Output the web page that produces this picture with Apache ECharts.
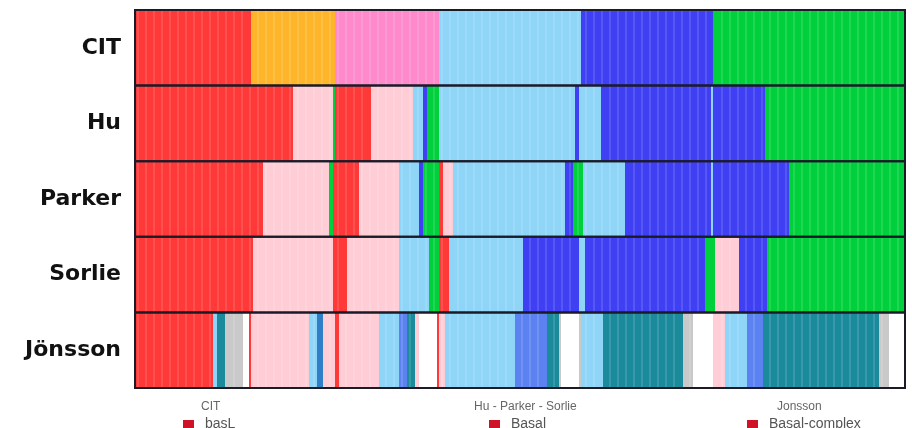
<!DOCTYPE html>
<html>
<head>
<meta charset="utf-8">
<script src="https://cdn.jsdelivr.net/npm/echarts@6/dist/echarts.min.js"></script>
<style>
  html, body { margin: 0; padding: 0; background: #fff; }
  #chart { width: 912px; height: 428px; }
</style>
</head>
<body>
<div id="chart"></div>
<script>
// subtype calls per sample, run-length encoded (class, number of samples)
var rows = ['CIT', 'Hu', 'Parker', 'Sorlie', 'Jönsson'];

var citRuns = [['basL', 58], ['mApo', 42], ['lumC', 52], ['normL', 71], ['lumB', 66], ['lumA', 96]];
var huRuns = [['Basal', 79], ['Her2', 20], ['LumA', 1], ['Basal', 18], ['Her2', 21], ['Normal', 5], ['LumB', 2],
    ['LumA', 6], ['Normal', 68], ['LumB', 2], ['Normal', 11], ['LumB', 55], ['Normal', 1], ['LumB', 26], ['LumA', 70]];
var parkerRuns = [['Basal', 64], ['Her2', 33], ['LumA', 2], ['Basal', 13], ['Her2', 20], ['Normal', 10], ['LumB', 2],
    ['LumA', 8], ['Basal', 2], ['Her2', 5], ['Normal', 56], ['LumB', 4], ['LumA', 5], ['Normal', 21], ['LumB', 43],
    ['Normal', 1], ['LumB', 38], ['LumA', 58]];
var sorlieRuns = [['Basal', 59], ['Her2', 40], ['Basal', 7], ['Her2', 26], ['Normal', 15], ['LumA', 5], ['Basal', 5],
    ['Normal', 37], ['LumB', 28], ['Normal', 3], ['LumB', 60], ['LumA', 5], ['Her2', 12], ['LumB', 14], ['LumA', 69]];
var jonssonRuns = [['Basal-complex', 39], ['Luminal-simple', 2], ['Luminal-complex', 4], ['Squamous-like', 9],
    ['Unclassified', 3], ['Basal-complex', 1], ['HER2-enriched', 29], ['Luminal-simple', 4], ['Normal-like', 3],
    ['HER2-enriched', 6], ['Basal-complex', 2], ['HER2-enriched', 20], ['Luminal-simple', 10], ['Mixed', 4],
    ['Luminal-complex', 4], ['HER2-enriched', 2], ['Unclassified', 9], ['Basal-complex', 1], ['HER2-enriched', 3],
    ['Luminal-simple', 35], ['Mixed', 16], ['Luminal-complex', 6], ['Squamous-like', 1], ['Unclassified', 9],
    ['Squamous-like', 1], ['Luminal-simple', 11], ['Luminal-complex', 40], ['Squamous-like', 5], ['Unclassified', 10],
    ['HER2-enriched', 6], ['Luminal-simple', 11], ['Mixed', 8], ['Luminal-complex', 58], ['Squamous-like', 5],
    ['Unclassified', 8]];

var allRuns = [citRuns, huRuns, parkerRuns, sorlieRuns, jonssonRuns];

var classColors = {
    'basL': '#ff3838', 'mApo': '#ffb52a', 'lumC': '#ff8acb', 'normL': '#8fd5f7', 'lumB': '#3f3ff3', 'lumA': '#00d03c',
    'Basal': '#ff3838', 'Her2': '#ffcdd6', 'Normal': '#8fd5f7', 'LumB': '#3f3ff3', 'LumA': '#00d03c',
    'Basal-complex': '#ff3838', 'HER2-enriched': '#ffcdd6', 'Luminal-simple': '#8fd5f7', 'Luminal-complex': '#1b8a9b',
    'Squamous-like': '#c9c9c9', 'Unclassified': '#ffffff', 'Mixed': '#5b82f0', 'Normal-like': '#2f7ec6'
};

var total = 0;
citRuns.forEach(function (r) { total += r[1]; });

// build one list of segments per class
var segs = {};
allRuns.forEach(function (runs, row) {
    var pos = 0;
    runs.forEach(function (r) {
        if (!segs[r[0]]) segs[r[0]] = [];
        segs[r[0]].push([pos, pos + r[1], row]);
        pos += r[1];
    });
});

function renderSeg(params, api) {
    var s = api.value(0), e = api.value(1), r = api.value(2);
    var p0 = api.coord([s, r]);
    var p1 = api.coord([e, r]);
    var h = api.size([0, 1])[1];
    var w1 = api.size([1, 0])[0];
    var kids = [{
        type: 'rect',
        shape: {x: p0[0], y: p0[1] - h / 2, width: p1[0] - p0[0], height: h},
        style: {fill: api.visual('color')}
    }];
    // faint sample stripes, like the original image
    for (var k = Math.ceil(s / 4) * 4 + 1; k < e - 1; k += 4) {
        var pk = api.coord([k, r]);
        kids.push({
            type: 'rect',
            shape: {x: pk[0], y: p0[1] - h / 2, width: w1, height: h},
            style: {fill: 'rgba(255,255,255,0.13)'}
        });
    }
    return {type: 'group', children: kids};
}

function renderFrame(params, api) {
    var r = api.value(0);
    var p0 = api.coord([0, r]);
    var p1 = api.coord([total, r]);
    var h = api.size([0, 1])[1];
    return {
        type: 'rect',
        shape: {x: p0[0], y: p0[1] - h / 2, width: p1[0] - p0[0], height: h},
        style: {fill: null, stroke: '#1b1b28', lineWidth: 2}
    };
}

var series = Object.keys(segs).map(function (name) {
    return {
        name: name,
        type: 'custom',
        renderItem: renderSeg,
        itemStyle: {color: classColors[name]},
        encode: {x: [0, 1], y: 2},
        data: segs[name],
        silent: true
    };
});
series.push({
    name: 'frame',
    type: 'custom',
    renderItem: renderFrame,
    encode: {y: 0},
    data: rows.map(function (r, i) { return [i]; }),
    z: 10,
    silent: true
});

var legendText = {fontFamily: 'Liberation Sans', fontSize: 14, color: '#555', padding: [0, 0, 0, 6]};
var titleText = {fontFamily: 'Liberation Sans', fontSize: 12, color: '#666', fontWeight: 'normal'};

var myChart = echarts.init(document.getElementById('chart'));
myChart.setOption({
    animation: false,
    title: [
        {text: 'CIT', left: 196, top: 396, textStyle: titleText},
        {text: 'Hu - Parker - Sorlie', left: 469, top: 396, textStyle: titleText},
        {text: 'Jonsson', left: 772, top: 396, textStyle: titleText}
    ],
    legend: [
        {data: [{name: 'basL', itemStyle: {color: '#cf1228'}}], left: 178, top: 412, itemWidth: 11, itemHeight: 8, icon: 'rect', textStyle: legendText},
        {data: [{name: 'Basal', itemStyle: {color: '#cf1228'}}], left: 484, top: 412, itemWidth: 11, itemHeight: 8, icon: 'rect', textStyle: legendText},
        {data: [{name: 'Basal-complex', itemStyle: {color: '#cf1228'}}], left: 742, top: 412, itemWidth: 11, itemHeight: 8, icon: 'rect', textStyle: legendText}
    ],
    grid: {left: 135, right: 7, top: 10, bottom: 40},
    xAxis: {type: 'value', min: 0, max: total, show: false},
    yAxis: {
        type: 'category',
        inverse: true,
        data: rows,
        axisLine: {show: false},
        axisTick: {show: false},
        splitLine: {show: false},
        axisLabel: {fontFamily: 'DejaVu Sans', fontWeight: 'bold', fontSize: 22, color: '#111', margin: 14}
    },
    series: series
});
</script>
</body>
</html>
